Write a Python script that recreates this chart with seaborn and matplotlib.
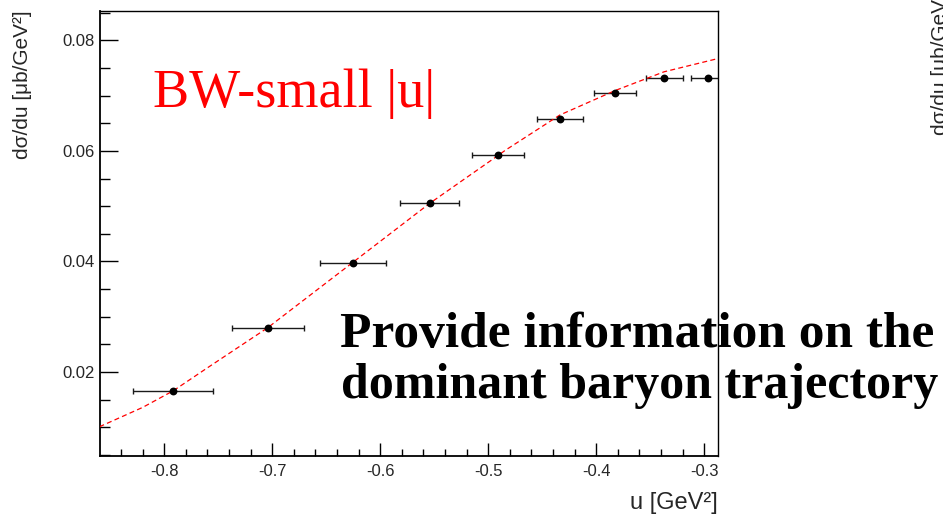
import matplotlib
matplotlib.use("Agg")
import matplotlib.pyplot as plt
from matplotlib.ticker import MultipleLocator, FixedLocator
import numpy as np
import pandas as pd
import seaborn as sns

# Measured cross section points (bin centre, value) with bin edges in u
u_center = [-0.7917, -0.7043, -0.6256, -0.5543, -0.4907, -0.4336, -0.3827, -0.3373, -0.2969]
dsigma = [0.01656, 0.02802, 0.03980, 0.05055, 0.05922, 0.06574, 0.07052, 0.07318, 0.07320]
u_low = [-0.8290, -0.7376, -0.6558, -0.5815, -0.5148, -0.4551, -0.4019, -0.3543, -0.3120]
u_high = [-0.7546, -0.6706, -0.5950, -0.5274, -0.4667, -0.4120, -0.3632, -0.3197, -0.2800]

# Fitted curve samples
fit_u = [-0.8600, -0.8200, -0.7917, -0.7605, -0.7043, -0.6256, -0.5543, -0.4907,
         -0.4843, -0.4336, -0.3827, -0.3373, -0.2873]
fit_val = [0.0101, 0.0136, 0.0166, 0.0207, 0.0280, 0.0398, 0.0505, 0.0592,
           0.0601, 0.0665, 0.0709, 0.0743, 0.0767]

x_major = [-0.8, -0.7, -0.6, -0.5, -0.4, -0.3]
x_labels = ["-0.8", "-0.7", "-0.6", "-0.5", "-0.4", "-0.3"]
y_major = [0.02, 0.04, 0.06, 0.08]
y_labels = ["0.02", "0.04", "0.06", "0.08"]

sns.set_theme(style="white")
plt.rcParams["font.family"] = ["Liberation Sans", "DejaVu Sans"]

W, H = 943, 523
fig = plt.figure(figsize=(W / 100, H / 100), dpi=100)
ax = fig.add_axes([100 / W, 1 - 455.5 / H, 618 / W, 444.5 / H])

pts = pd.DataFrame({"u": u_center, "ds": dsigma})
fit = pd.DataFrame({"u": fit_u, "ds": fit_val})

# horizontal bin-width bars
xerr = np.array([np.array(u_center) - np.array(u_low), np.array(u_high) - np.array(u_center)])
ax.errorbar(u_center, dsigma, xerr=xerr, fmt="none", ecolor="#1a1a1a",
            elinewidth=1.0, capsize=2.5, capthick=1.0, zorder=2)

sns.lineplot(data=fit, x="u", y="ds", ax=ax, color="red", linewidth=0.9,
             sort=False, zorder=3)
ax.lines[-1].set_dashes((4, 2.6))

sns.scatterplot(data=pts, x="u", y="ds", ax=ax, color="black", s=32,
                edgecolor="black", linewidth=0, zorder=4)

ax.set_xlim(-0.8595, -0.2873)
ax.set_ylim(0.0049, 0.0853)

ax.xaxis.set_major_locator(FixedLocator(x_major))
ax.set_xticklabels(x_labels)
ax.xaxis.set_minor_locator(MultipleLocator(0.02))
ax.yaxis.set_major_locator(FixedLocator(y_major))
ax.set_yticklabels(y_labels)
ax.yaxis.set_minor_locator(MultipleLocator(0.005))

ax.tick_params(axis="x", which="major", direction="in", length=9.4, width=1.0,
               color="black", labelsize=12, pad=6, bottom=True, top=False)
ax.tick_params(axis="x", which="minor", direction="in", length=4.7, width=1.0,
               color="black", bottom=True, top=False)
ax.tick_params(axis="y", which="major", direction="in", length=13, width=1.0,
               color="black", labelsize=12, pad=4, left=True, right=False)
ax.tick_params(axis="y", which="minor", direction="in", length=7, width=1.0,
               color="black", left=True, right=False)

for side, sp in ax.spines.items():
    sp.set_visible(True)
    sp.set_color("black")
    sp.set_linewidth(1.0)
ax.spines["left"].set_linewidth(1.3)
ax.spines["bottom"].set_linewidth(1.3)

ax.set_xlabel("")
ax.set_ylabel("")

# axis titles
fig.text(718 / W, 1 - 503 / H, "u [GeV²]", ha="right", va="center", fontsize=17)
fig.text(23 / W, 1 - 10 / H, "dσ/du [μb/GeV²]", rotation=90, ha="center", va="top",
         fontsize=15)
# y title of the neighbouring panel
fig.text(941 / W, 1 - 135 / H, "dσ/du [μb/GeV²]", rotation=90, ha="center",
         va="bottom", fontsize=15)

# annotations
fig.text(153 / W, 1 - 107 / H, "BW-small |u|", color="red", fontsize=39,
         family=["Liberation Serif", "DejaVu Serif"], ha="left", va="baseline")
fig.text(340 / W, 1 - 346.7 / H, "Provide information on the", color="black",
         fontsize=37, fontweight="bold", family=["Liberation Serif", "DejaVu Serif"],
         ha="left", va="baseline")
fig.text(341 / W, 1 - 398 / H, "dominant baryon trajectory", color="black",
         fontsize=36, fontweight="bold", family=["Liberation Serif", "DejaVu Serif"],
         ha="left", va="baseline")

fig.savefig("out.png", dpi=100)
